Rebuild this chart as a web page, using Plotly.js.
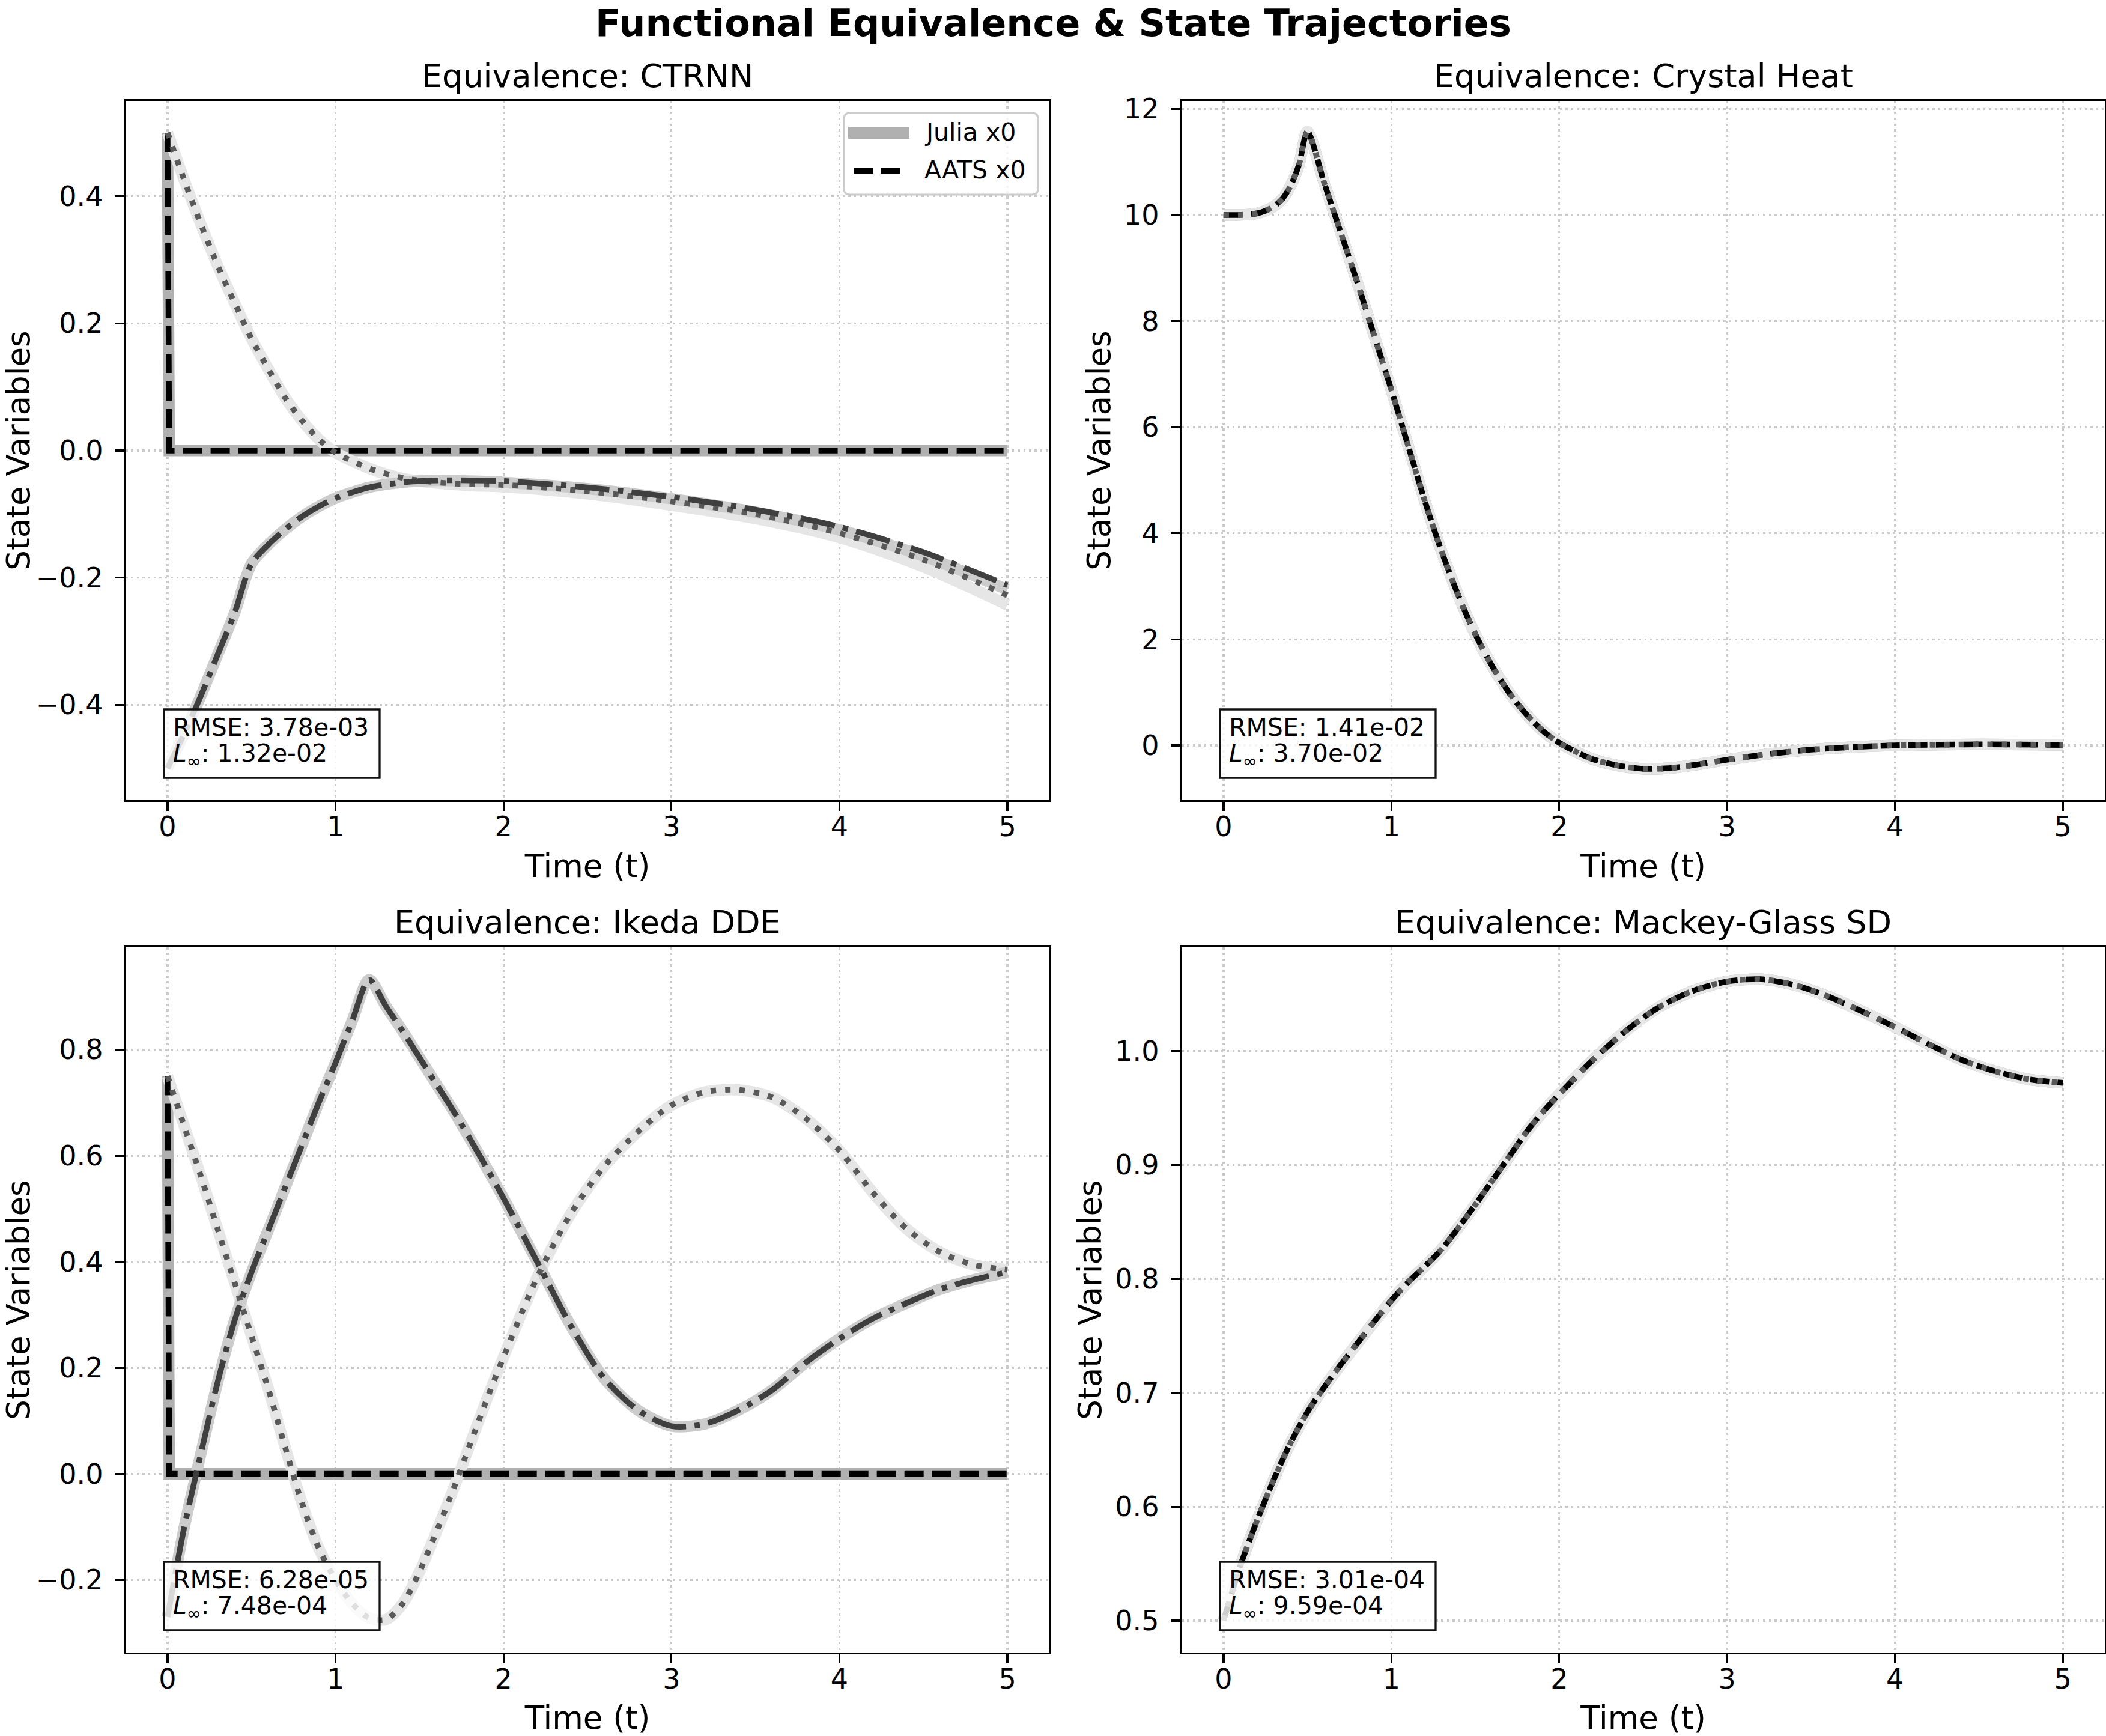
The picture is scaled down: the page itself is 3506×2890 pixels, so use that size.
<!DOCTYPE html>
<html>
<head>
<meta charset="utf-8">
<script src="https://cdn.plot.ly/plotly-3.0.1.min.js"></script>
<style>
  html, body { margin: 0; padding: 0; background: #ffffff; }
  #chart { width: 3506px; height: 2890px; }
</style>
</head>
<body>
<div id="chart"></div>
<script>
// ---------------- data ----------------
const panelTitles = ['Equivalence: CTRNN', 'Equivalence: Crystal Heat',
                     'Equivalence: Ikeda DDE', 'Equivalence: Mackey-Glass SD'];
const rmseText = ['3.78e-03', '1.41e-02', '6.28e-05', '3.01e-04'];
const linfText = ['1.32e-02', '3.70e-02', '7.48e-04', '9.59e-04'];
const legendLabels = ['Julia x0', 'AATS x0'];

const timeTicks = [0, 1, 2, 3, 4, 5];
const timeTickText = ['0', '1', '2', '3', '4', '5'];
const ctrnnTicks = [-0.4, -0.2, 0, 0.2, 0.4];
const ctrnnTickText = ['\u22120.4', '\u22120.2', '0.0', '0.2', '0.4'];
const heatTicks = [0, 2, 4, 6, 8, 10, 12];
const heatTickText = ['0', '2', '4', '6', '8', '10', '12'];
const ikedaTicks = [-0.2, 0, 0.2, 0.4, 0.6, 0.8];
const ikedaTickText = ['\u22120.2', '0.0', '0.2', '0.4', '0.6', '0.8'];
const mackeyTicks = [0.5, 0.6, 0.7, 0.8, 0.9, 1.0];
const mackeyTickText = ['0.5', '0.6', '0.7', '0.8', '0.9', '1.0'];

// state x0 in CTRNN and Ikeda: initial value, then zero from the first step on
const tStep = [0, 0.01, 5];
const ctrnnX0 = [0.5, 0, 0];
const ikedaX0 = [0.75, 0, 0];

// CTRNN
const tCtrnn = [0, 0.1, 0.2, 0.3, 0.4, 0.5, 0.6, 0.7, 0.8, 0.9, 1.0, 1.2, 1.4, 1.6, 1.8, 2.0, 2.5, 3.0, 3.5, 4.0, 4.5, 5.0];
const ctrnnJuliaX1 = [0.5, 0.425, 0.355, 0.29, 0.232, 0.176, 0.128, 0.083, 0.047, 0.018, -0.003, -0.028, -0.044, -0.051, -0.055, -0.057, -0.068, -0.086, -0.107, -0.137, -0.183, -0.243];
const ctrnnAatsX1  = [0.5, 0.425, 0.355, 0.29, 0.232, 0.176, 0.128, 0.083, 0.047, 0.018, -0.003, -0.028, -0.043, -0.05, -0.053, -0.054, -0.064, -0.08, -0.1, -0.13, -0.172, -0.228];
const ctrnnJuliaX2 = [-0.5, -0.445, -0.385, -0.32, -0.255, -0.178, -0.148, -0.124, -0.104, -0.088, -0.075, -0.058, -0.05, -0.047, -0.048, -0.05, -0.06, -0.076, -0.097, -0.125, -0.166, -0.219];
const ctrnnAatsX2  = [-0.5, -0.445, -0.385, -0.32, -0.255, -0.178, -0.148, -0.124, -0.104, -0.088, -0.075, -0.058, -0.05, -0.047, -0.047, -0.048, -0.058, -0.073, -0.093, -0.12, -0.16, -0.212];

// Crystal heat (both nodes follow the same trajectory)
const tHeat = [0, 0.1, 0.2, 0.25, 0.3, 0.35, 0.4, 0.45, 0.5, 0.6, 0.7, 0.8, 0.9, 1.0, 1.1, 1.2, 1.3, 1.4, 1.5, 1.6, 1.7, 1.8, 1.9, 2.0, 2.1, 2.2, 2.35, 2.5, 2.65, 2.8, 3.0, 3.25, 3.5, 3.75, 4.0, 4.5, 5.0];
const heatNode = [10.0, 10.0, 10.03, 10.08, 10.16, 10.3, 10.55, 10.95, 11.57, 10.6, 9.65, 8.7, 7.7, 6.7, 5.65, 4.6, 3.65, 2.82, 2.1, 1.5, 1.0, 0.6, 0.28, 0.05, -0.12, -0.26, -0.38, -0.44, -0.43, -0.37, -0.27, -0.16, -0.08, -0.03, 0.0, 0.02, 0.01];

// Ikeda DDE
const tIkeda = [0, 0.1, 0.2, 0.3, 0.4, 0.5, 0.6, 0.7, 0.8, 0.9, 1.0, 1.1, 1.2, 1.3, 1.4, 1.5, 1.6, 1.7, 1.8, 1.9, 2.0, 2.2, 2.4, 2.6, 2.8, 3.0, 3.2, 3.4, 3.6, 3.8, 4.0, 4.2, 4.4, 4.6, 4.8, 5.0];
const ikedaX1 = [0.75, 0.655, 0.56, 0.46, 0.36, 0.26, 0.16, 0.05, -0.055, -0.14, -0.2, -0.245, -0.272, -0.275, -0.245, -0.185, -0.11, -0.03, 0.055, 0.14, 0.22, 0.37, 0.49, 0.58, 0.645, 0.695, 0.72, 0.724, 0.71, 0.67, 0.61, 0.53, 0.462, 0.418, 0.394, 0.385];
const ikedaX2 = [-0.27, -0.1, 0.04, 0.175, 0.29, 0.38, 0.46, 0.54, 0.62, 0.70, 0.775, 0.855, 0.932, 0.882, 0.835, 0.785, 0.735, 0.685, 0.632, 0.577, 0.52, 0.4, 0.28, 0.18, 0.12, 0.09, 0.094, 0.12, 0.158, 0.21, 0.255, 0.293, 0.322, 0.348, 0.366, 0.38];

// Mackey-Glass state dependent delay (both states coincide)
const tMackey = [0, 0.1, 0.2, 0.3, 0.4, 0.5, 0.6, 0.7, 0.8, 0.9, 1.0, 1.1, 1.2, 1.3, 1.4, 1.5, 1.6, 1.7, 1.8, 1.9, 2.0, 2.2, 2.4, 2.6, 2.8, 3.0, 3.2, 3.4, 3.6, 3.8, 4.0, 4.2, 4.4, 4.6, 4.8, 5.0];
const mackeyNode = [0.5, 0.548, 0.588, 0.624, 0.656, 0.683, 0.705, 0.725, 0.744, 0.763, 0.781, 0.797, 0.811, 0.826, 0.845, 0.865, 0.886, 0.907, 0.928, 0.946, 0.962, 0.992, 1.018, 1.039, 1.053, 1.061, 1.063, 1.058, 1.048, 1.035, 1.021, 1.006, 0.992, 0.982, 0.975, 0.972];

// ---------------- styling ----------------
const W = 3506, H = 2890;
const FONT = 'DejaVu Sans, Verdana, sans-serif';
const juliaColors = ['#b0b0b0', '#e6e6e6', '#cccccc'];
const aatsColors = ['#000000', '#595959', '#3f3f3f'];
const aatsDash = ['32px,14px', '9px,15px', '58px,14px,9px,14px'];
const JULIA_W = 19, AATS_W = 9.5;

// panel frames in pixels: [left, right, top, bottom]
const frames = [
  [209, 1747, 168, 1332],
  [1967, 3504, 168, 1332],
  [209, 1747, 1577, 2751],
  [1967, 3504, 1577, 2751]
];
const px = function (v) { return v / W; };
const py = function (v) { return 1 - v / H; };

function axisIds(n) {
  return n === 1 ? ['x', 'y'] : ['x' + n, 'y' + n];
}
function juliaLine(x, y, k, n, shape) {
  const ids = axisIds(n);
  return {
    type: 'scatter', mode: 'lines', x: x, y: y, xaxis: ids[0], yaxis: ids[1],
    line: { color: juliaColors[k], width: JULIA_W, shape: shape || 'spline', smoothing: 0.8 },
    name: 'Julia x' + k, showlegend: false, hoverinfo: 'skip'
  };
}
function aatsLine(x, y, k, n, shape) {
  const ids = axisIds(n);
  return {
    type: 'scatter', mode: 'lines', x: x, y: y, xaxis: ids[0], yaxis: ids[1],
    line: { color: aatsColors[k], width: AATS_W, dash: aatsDash[k], shape: shape || 'spline', smoothing: 0.8 },
    name: 'AATS x' + k, showlegend: false, hoverinfo: 'skip'
  };
}

const traces = [
  // CTRNN
  juliaLine(tStep, ctrnnX0, 0, 1, 'linear'),
  juliaLine(tCtrnn, ctrnnJuliaX1, 1, 1),
  juliaLine(tCtrnn, ctrnnJuliaX2, 2, 1),
  aatsLine(tStep, ctrnnX0, 0, 1, 'linear'),
  aatsLine(tCtrnn, ctrnnAatsX1, 1, 1),
  aatsLine(tCtrnn, ctrnnAatsX2, 2, 1),
  // Crystal heat
  juliaLine(tHeat, heatNode, 0, 2),
  juliaLine(tHeat, heatNode, 1, 2),
  aatsLine(tHeat, heatNode, 0, 2),
  aatsLine(tHeat, heatNode, 1, 2),
  // Ikeda
  juliaLine(tStep, ikedaX0, 0, 3, 'linear'),
  juliaLine(tIkeda, ikedaX1, 1, 3),
  juliaLine(tIkeda, ikedaX2, 2, 3),
  aatsLine(tStep, ikedaX0, 0, 3, 'linear'),
  aatsLine(tIkeda, ikedaX1, 1, 3),
  aatsLine(tIkeda, ikedaX2, 2, 3),
  // Mackey-Glass
  juliaLine(tMackey, mackeyNode, 0, 4),
  juliaLine(tMackey, mackeyNode, 1, 4),
  aatsLine(tMackey, mackeyNode, 0, 4),
  aatsLine(tMackey, mackeyNode, 1, 4)
];

function baseAxis() {
  return {
    showline: true, linecolor: '#000000', linewidth: 3.3, mirror: true,
    ticks: 'outside', ticklen: 15, tickwidth: 3.3, tickcolor: '#000000',
    showgrid: true, gridcolor: '#cbcbcb', gridwidth: 3.3, griddash: '3.6px,5.8px',
    zeroline: false, automargin: false, fixedrange: true,
    tickfont: { family: FONT, size: 46, color: '#000000' },
    tickmode: 'array'
  };
}
function xAxis(n) {
  const f = frames[n - 1];
  return Object.assign(baseAxis(), {
    domain: [px(f[0]), px(f[1])], range: [-0.25, 5.25],
    anchor: axisIds(n)[1],
    tickvals: timeTicks, ticktext: timeTickText, ticklabelstandoff: -14,
    title: { text: 'Time (t)', font: { family: FONT, size: 53, color: '#000000' }, standoff: 22 }
  });
}
function yAxis(n, range, vals, text, standoff) {
  const f = frames[n - 1];
  return Object.assign(baseAxis(), {
    domain: [py(f[3]), py(f[2])], range: range,
    anchor: axisIds(n)[0],
    tickvals: vals, ticktext: text, ticklabelstandoff: 10,
    title: { text: 'State Variables', font: { family: FONT, size: 53, color: '#000000' }, standoff: standoff }
  });
}

const annotations = [];
const shapes = [];

annotations.push({
  xref: 'paper', yref: 'paper', x: 0.5, y: 1, xanchor: 'center', yanchor: 'top',
  text: '<b>Functional Equivalence &amp; State Trajectories</b>', showarrow: false,
  font: { family: FONT, size: 62, color: '#000000' }
});

frames.forEach(function (f, i) {
  const n = i + 1;
  const ids = axisIds(n);
  const xd = ids[0] + ' domain', yd = ids[1] + ' domain';
  const w = f[1] - f[0], h = f[3] - f[2];
  // panel title
  annotations.push({
    xref: xd, yref: 'paper', x: 0.5, y: py(f[2] - 42), xanchor: 'center', yanchor: 'middle',
    text: panelTitles[i], showarrow: false,
    font: { family: FONT, size: 54, color: '#000000' }
  });
  // error box
  shapes.push({
    type: 'rect', xref: xd, yref: yd, layer: 'above',
    x0: 64 / w, x1: 423 / w, y0: 37 / h, y1: 151 / h,
    fillcolor: 'rgba(255,255,255,0.8)', line: { color: '#111111', width: 3.3 }
  });
  annotations.push({
    xref: xd, yref: yd, x: 78 / w, y: 121 / h, xanchor: 'left', yanchor: 'middle',
    text: 'RMSE: ' + rmseText[i], showarrow: false, borderpad: 0,
    font: { family: FONT, size: 41, color: '#000000' }
  });
  annotations.push({
    xref: xd, yref: yd, x: 78 / w, y: 75 / h, xanchor: 'left', yanchor: 'middle',
    text: '<i>L</i><sub>\u221e</sub>: ' + linfText[i], showarrow: false, borderpad: 0,
    font: { family: FONT, size: 41, color: '#000000' }
  });
});

// legend of the CTRNN panel (upper right), rounded frame
(function () {
  const L = 1405, R = 1728, T = 188, B = 324, r = 10;
  const path = 'M' + px(L + r) + ',' + py(T) +
    ' L' + px(R - r) + ',' + py(T) + ' Q' + px(R) + ',' + py(T) + ' ' + px(R) + ',' + py(T + r) +
    ' L' + px(R) + ',' + py(B - r) + ' Q' + px(R) + ',' + py(B) + ' ' + px(R - r) + ',' + py(B) +
    ' L' + px(L + r) + ',' + py(B) + ' Q' + px(L) + ',' + py(B) + ' ' + px(L) + ',' + py(B - r) +
    ' L' + px(L) + ',' + py(T + r) + ' Q' + px(L) + ',' + py(T) + ' ' + px(L + r) + ',' + py(T) + ' Z';
  shapes.push({
    type: 'path', xref: 'paper', yref: 'paper', layer: 'above', path: path,
    fillcolor: 'rgba(255,255,255,0.8)', line: { color: '#cccccc', width: 3 }
  });
  shapes.push({
    type: 'line', xref: 'paper', yref: 'paper', layer: 'above',
    x0: px(1412), x1: px(1514), y0: py(221), y1: py(221),
    line: { color: juliaColors[0], width: 20 }
  });
  shapes.push({
    type: 'line', xref: 'paper', yref: 'paper', layer: 'above',
    x0: px(1421), x1: px(1503), y0: py(285), y1: py(285),
    line: { color: aatsColors[0], width: 10, dash: aatsDash[0] }
  });
  [220, 283].forEach(function (yy, j) {
    annotations.push({
      xref: 'paper', yref: 'paper', x: px(1538), y: py(yy), xanchor: 'left', yanchor: 'middle',
      text: legendLabels[j], showarrow: false, borderpad: 0,
      font: { family: FONT, size: 41, color: '#000000' }
    });
  });
})();

const layout = {
  width: W, height: H,
  margin: { l: 0, r: 0, t: 0, b: 0, pad: 0 },
  paper_bgcolor: '#ffffff', plot_bgcolor: '#ffffff',
  font: { family: FONT, color: '#000000' },
  showlegend: false,
  xaxis: xAxis(1), xaxis2: xAxis(2), xaxis3: xAxis(3), xaxis4: xAxis(4),
  yaxis: yAxis(1, [-0.55, 0.55], ctrnnTicks, ctrnnTickText, 33),
  yaxis2: yAxis(2, [-1.03, 12.15], heatTicks, heatTickText, 6),
  yaxis3: yAxis(3, [-0.337, 0.993], ikedaTicks, ikedaTickText, 33),
  yaxis4: yAxis(4, [0.472, 1.091], mackeyTicks, mackeyTickText, 6),
  annotations: annotations,
  shapes: shapes
};

Plotly.newPlot('chart', traces, layout, { displayModeBar: false, staticPlot: true });
</script>
</body>
</html>
